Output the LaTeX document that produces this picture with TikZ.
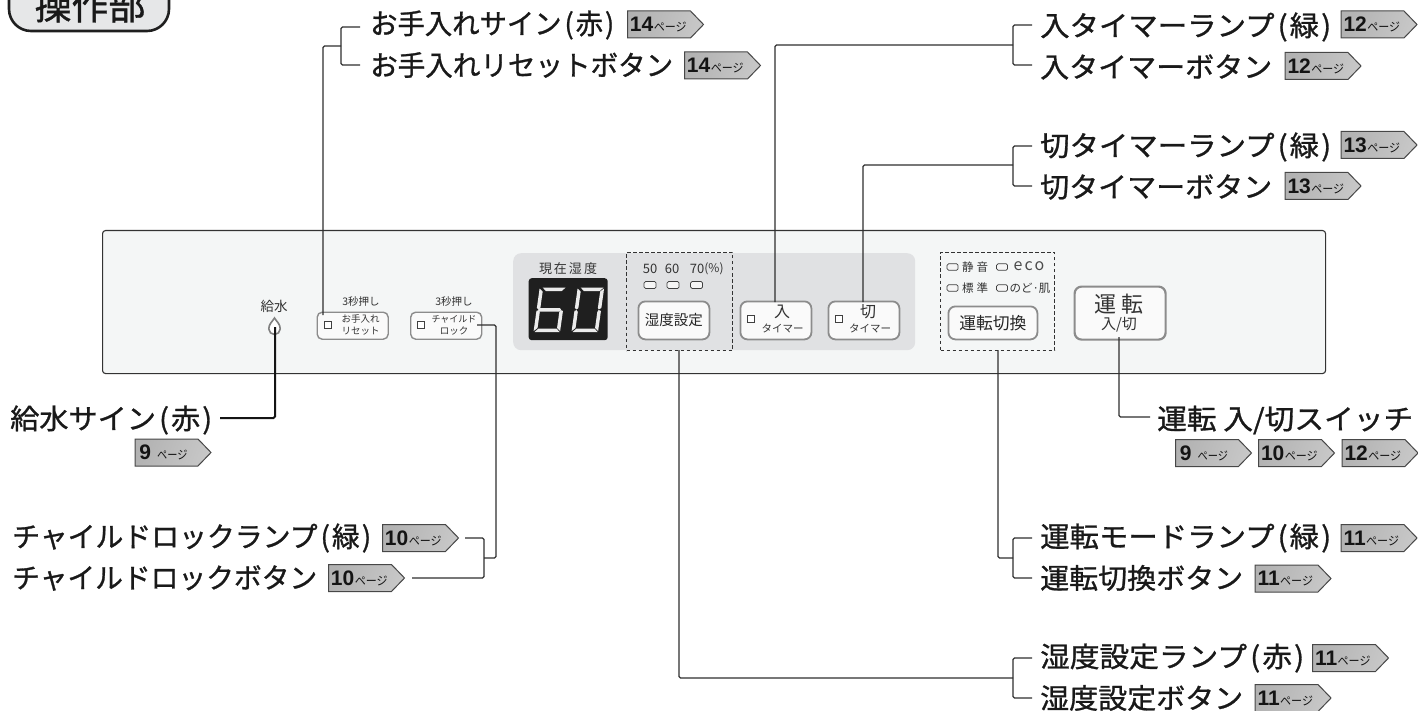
\documentclass[tikz,border=0pt]{standalone}
\usepackage{fontspec}
\usepackage{graphicx}
\setmainfont{Noto Sans CJK JP}
\newfontfamily\lblfont[FakeBold=1]{Noto Sans CJK JP}
\newfontfamily\numfont{Liberation Sans}
\usetikzlibrary{shapes.symbols,calc}
\definecolor{panelc}{HTML}{F4F6F6}
\definecolor{grayc}{HTML}{E0E1E3}
\definecolor{titlec}{HTML}{E6E7E8}
\newcommand{\fs}[1]{\fontsize{#1}{#1}\selectfont}
\tikzset{
  x=1pt,y=-1pt,
  conn/.style={draw=black!82,line width=1.3pt,rounded corners=1.5pt},
  lbl/.style={anchor=west,inner sep=0pt,font=\lblfont\fs{28},text=black!90},
  badge/.style={shape=signal,signal to=east,signal pointer angle=92,anchor=west,draw=black!72,line width=1pt,
    left color=black!30,middle color=white,right color=black!22,shading angle=70,minimum width=76pt,minimum height=27pt,inner sep=0pt,text=black!92},
  ptxt/.style={inner sep=0pt,text=black!80},
  btn/.style={draw=black!45,line width=1.8pt,fill=black!2,rounded corners=7pt},
  lamp/.style={draw=black!75,line width=.7pt,fill=black!4,rounded corners=1.5pt},
  sq/.style={draw=black!75,line width=.7pt,fill=white},
  dbox/.style={draw=black!80,line width=1pt,dash pattern=on 3.5pt off 2.5pt},
  segm/.style={fill=black!8},
}
\newcommand{\lab}[5]{\node[lbl] (#1) at (#2,#3) {\resizebox{#4pt}{\height}{#5}};}
\newcommand{\pr}[1]{\kern3pt(\kern2pt#1\kern2pt)\kern1pt}
\newcommand{\pg}[4]{\node[badge] (#1) at (#2,#3) {\makebox[62pt][l]{\kern2pt{\numfont\bfseries\fs{21}#4}\kern.5pt{\fs{12}\scalebox{.92}[1]{ページ}}}};}
\newcommand{\pgn}[4]{\node[badge] (#1) at (#2,#3) {\makebox[62pt][l]{\kern4pt{\numfont\bfseries\fs{21}#4}\kern6pt{\fs{12}\scalebox{.85}[1]{ページ}}}};}
\newcommand{\sega}{\fill[segm] (3,-44.5)--(26,-44.5)--(22.5,-41)--(6.5,-41)--cycle;}
\newcommand{\segb}{\fill[segm] (26.5,-43.5)--(26.5,-24)--(24,-22.5)--(23,-24)--(23,-40.5)--cycle;}
\newcommand{\segc}{\fill[segm] (26.5,-21)--(26.5,-1)--(23,-4)--(23,-20)--(24,-22)--cycle;}
\newcommand{\segd}{\fill[segm] (1,0)--(26,0)--(22.5,-3.5)--(4.5,-3.5)--cycle;}
\newcommand{\sege}{\fill[segm] (0,-21)--(0,-1)--(3.5,-4)--(3.5,-20)--(2,-22)--cycle;}
\newcommand{\segf}{\fill[segm] (0,-43.5)--(0,-24)--(2,-22.5)--(3.5,-24)--(3.5,-40.5)--cycle;}
\newcommand{\segg}{\fill[segm] (3,-24)--(23,-24)--(24.5,-22.3)--(23,-20.5)--(3,-20.5)--(1.5,-22.3)--cycle;}
\begin{document}
\begin{tikzpicture}
\useasboundingbox (0,0) rectangle (1418,711);
\begin{scope}
\clip (0,0) rectangle (1418,711);
\node[draw=black!88,line width=2.6pt,fill=titlec,rounded corners=22pt,minimum width=160pt,minimum height=70pt,inner sep=0pt] (ttlbox) at (89,-4) {};
\node[inner sep=0pt,font=\lblfont\fs{37},text=black!90] (ttl) at (90,5.5) {操作部};
\end{scope}
% panel
\node[draw=black!80,line width=1.1pt,fill=panelc,rounded corners=3pt,minimum width=1223pt,minimum height=143pt,inner sep=0pt,anchor=north west] (panel) at (102,230) {};
\node[fill=grayc,rounded corners=8pt,minimum width=402pt,minimum height=97pt,inner sep=0pt,anchor=north west] (gray) at (513,253) {};
% display
\node[ptxt,font=\fs{13}] (gen) at (568,269) {現\kern2pt 在\kern2pt 湿\kern2pt 度};
\node[fill=black!88,rounded corners=3pt,minimum width=79pt,minimum height=62pt,inner sep=0pt,anchor=north west] (disp) at (528.5,278) {};
\begin{scope}[shift={(533.5,332)},xslant=.14]
\sega\sege\segd\segc\segf\segg
\end{scope}
\begin{scope}[shift={(571.5,332)},xslant=.14]
\sega\segb\segc\segd\sege\segf
\end{scope}
% dashed boxes
\node[dbox,minimum width=106pt,minimum height=98pt,inner sep=0pt,anchor=north west] (d1) at (626,252) {};
\node[dbox,minimum width=114pt,minimum height=98pt,inner sep=0pt,anchor=north west] (d2) at (940,252) {};
% humidity group
\node[ptxt,font=\fs{13}] (h50) at (650,269) {50};
\node[ptxt,font=\fs{13}] (h60) at (672,269) {60};
\node[ptxt,font=\fs{13}] (h70) at (697,269) {70};
\node[ptxt,font=\fs{12}] (hp) at (714,269) {(\%)};
\node[lamp,minimum width=12pt,minimum height=7pt,inner sep=0pt] (l50) at (650,285) {};
\node[lamp,minimum width=12pt,minimum height=7pt,inner sep=0pt] (l60) at (673,285) {};
\node[lamp,minimum width=12pt,minimum height=7pt,inner sep=0pt] (l70) at (696.5,285) {};
\node[btn,minimum width=71pt,minimum height=38pt,inner sep=0pt,anchor=north west,font=\fs{14.5},text=black!85] (bhum) at (637.5,300.5) {湿度設定};
% timer buttons
\node[btn,minimum width=71pt,minimum height=38pt,inner sep=0pt,anchor=north west] (bon) at (739.5,300.5) {};
\node[sq,minimum size=6.5pt,inner sep=0pt] (son) at (751,319) {};
\node[ptxt,font=\fs{16}] (ton) at (782,312) {入};
\node[ptxt,font=\fs{10.5}] (ton2) at (782.5,328) {タイマー};
\node[btn,minimum width=71pt,minimum height=38pt,inner sep=0pt,anchor=north west] (boff) at (827.5,300.5) {};
\node[sq,minimum size=6.5pt,inner sep=0pt] (soff) at (839,319) {};
\node[ptxt,font=\fs{16}] (toff) at (868,312) {切};
\node[ptxt,font=\fs{10.5}] (toff2) at (870,328) {タイマー};
% mode group
\node[lamp,minimum width=11pt,minimum height=6.5pt,inner sep=0pt] (m1) at (952.5,267) {};
\node[ptxt,font=\fs{11.5}] (mt1) at (975,267) {静\kern3pt 音};
\node[lamp,minimum width=11pt,minimum height=6.5pt,inner sep=0pt] (m2) at (1002,267) {};
\node[ptxt,font=\fs{16},text=black!70] (mt2) at (1029,266) {e\kern2pt c\kern2pt o};
\node[lamp,minimum width=11pt,minimum height=6.5pt,inner sep=0pt] (m3) at (952.5,288) {};
\node[ptxt,font=\fs{11.5}] (mt3) at (975,288) {標\kern3pt 準};
\node[lamp,minimum width=11pt,minimum height=6.5pt,inner sep=0pt] (m4) at (1002,288) {};
\node[ptxt,font=\fs{11.5}] (mt4) at (1030,288) {のど·肌};
\node[btn,minimum width=89pt,minimum height=33pt,inner sep=0pt,anchor=north west,font=\fs{16.8},text=black!85] (bmode) at (947.5,305.5) {運転切換};
% power
\node[btn,line width=2.2pt,minimum width=91pt,minimum height=53pt,inner sep=0pt,anchor=north west] (bpow) at (1073.5,285.5) {};
\node[ptxt,font=\fs{22}] (pw1) at (1119,304) {運\kern5pt 転};
\node[ptxt,font=\fs{15}] (pw2) at (1119,325) {入/切};
% left part of panel
\node[ptxt,font=\fs{13.5}] (kyu) at (274,306) {給水};
\coordinate (drop) at (275,327);
\draw[draw=black!50,line width=1.6pt,fill=white] (274.5,318) .. controls (272,322) and (268.8,324) .. (268.8,329) .. controls (268.8,332) and (271.5,334.5) .. (274.5,334.5) .. controls (277.5,334.5) and (280.2,332) .. (280.2,329) .. controls (280.2,324) and (277,322) .. (274.5,318) -- cycle;
\node[ptxt,font=\fs{10.5}] (t3a) at (361,302) {3秒押し};
\node[btn,line width=1.4pt,rounded corners=5pt,minimum width=71pt,minimum height=27pt,inner sep=0pt,anchor=north west] (bcare) at (316.5,311.5) {};
\node[sq,minimum size=7pt,inner sep=0pt] (scare) at (328,325) {};
\node[ptxt,font=\fs{9.5}] (tc1) at (360.5,319) {お手入れ};
\node[ptxt,font=\fs{9.5}] (tc2) at (360.5,331) {リセット};
\node[ptxt,font=\fs{10.5}] (t3b) at (454,302) {3秒押し};
\node[btn,line width=1.4pt,rounded corners=5pt,minimum width=71pt,minimum height=27pt,inner sep=0pt,anchor=north west] (block) at (410,311.5) {};
\node[sq,minimum size=7pt,inner sep=0pt] (slock) at (421,325) {};
\node[ptxt,font=\fs{9}] (tl1) at (454,319) {チャイルド};
\node[ptxt,font=\fs{9.5}] (tl2) at (454,331) {ロック};
% labels
\lab{a1}{370}{25}{245}{お手入れサイン\pr{赤}}
\pg{a1b}{627}{24.5}{14}
\lab{a2}{370}{65}{303}{お手入れリセットボタン}
\pg{a2b}{684}{65.5}{14}
\lab{b1}{1040}{27}{292}{入タイマーランプ\pr{緑}}
\pg{b1b}{1340.5}{24.5}{12}
\lab{b2}{1040}{67}{232}{入タイマーボタン}
\pg{b2b}{1284.5}{66}{12}
\lab{c1}{1040}{147}{292}{切タイマーランプ\pr{緑}}
\pg{c1b}{1340.5}{145}{13}
\lab{c2}{1040}{187}{232}{切タイマーボタン}
\pg{c2b}{1284.5}{186}{13}
\lab{w}{10}{420}{203}{給水サイン\pr{赤}}
\pgn{wb}{134.5}{452.5}{9}
\lab{p}{1157}{420}{256}{運転 入/切スイッチ}
\pgn{p1}{1175}{453}{9}
\pg{p2}{1258}{453}{10}
\pg{p3}{1341.5}{453}{12}
\lab{e1}{12}{538}{360}{チャイルドロックランプ\pr{緑}}
\pg{e1b}{382}{538}{10}
\lab{e2}{12}{578}{305}{チャイルドロックボタン}
\pg{e2b}{328}{578}{10}
\lab{f1}{1040}{538}{292}{運転モードランプ\pr{緑}}
\pg{f1b}{1340.5}{538}{11}
\lab{f2}{1040}{578}{203}{運転切換ボタン}
\pg{f2b}{1254.5}{578.5}{11}
\lab{g1}{1040}{658}{265}{湿度設定ランプ\pr{赤}}
\pg{g1b}{1312}{658}{11}
\lab{g2}{1040}{698}{203}{湿度設定ボタン}
\pg{g2b}{1254.5}{698}{11}
% connector free ends
\coordinate (a1e) at (360,27); \coordinate (a2e) at (360,65); \coordinate (busa) at (341,46);
\coordinate (b1e) at (1032,25); \coordinate (b2e) at (1032,65); \coordinate (busb) at (1013,45);
\coordinate (c1e) at (1032,146); \coordinate (c2e) at (1032,186); \coordinate (busc) at (1013,165);
\coordinate (f1e) at (1032,538); \coordinate (f2e) at (1032,578); \coordinate (busf) at (1013,558);
\coordinate (g1e) at (1032,658); \coordinate (g2e) at (1032,698); \coordinate (busg) at (1013,678);
\coordinate (e1e) at (465,538); \coordinate (e2e) at (412,578); \coordinate (buse) at (484,558);
\coordinate (wend) at (220,418); \coordinate (pend) at (1150,417);
% connectors
\draw[conn] (a1e) -| (busa) |- (a2e);
\draw[conn] (323,315) |- (busa);
\draw[conn] (b1e) -| (busb) |- (b2e);
\draw[conn] (775,302) |- (busb);
\draw[conn] (c1e) -| (busc) |- (c2e);
\draw[conn] (863,302) |- (busc);
\draw[conn,line width=2pt,draw=black!92] (drop) |- (wend);
\draw[conn] (e1e) -| (buse) |- (e2e);
\draw[conn] (477,325) -| (496,400) |- (buse);
\draw[conn] (f1e) -| (busf) |- (f2e);
\draw[conn] (998,350) |- (busf);
\draw[conn] (g1e) -| (busg) |- (g2e);
\draw[conn] (679,350) |- (busg);
\draw[conn] (1119,337) |- (pend);
\end{tikzpicture}
\end{document}
